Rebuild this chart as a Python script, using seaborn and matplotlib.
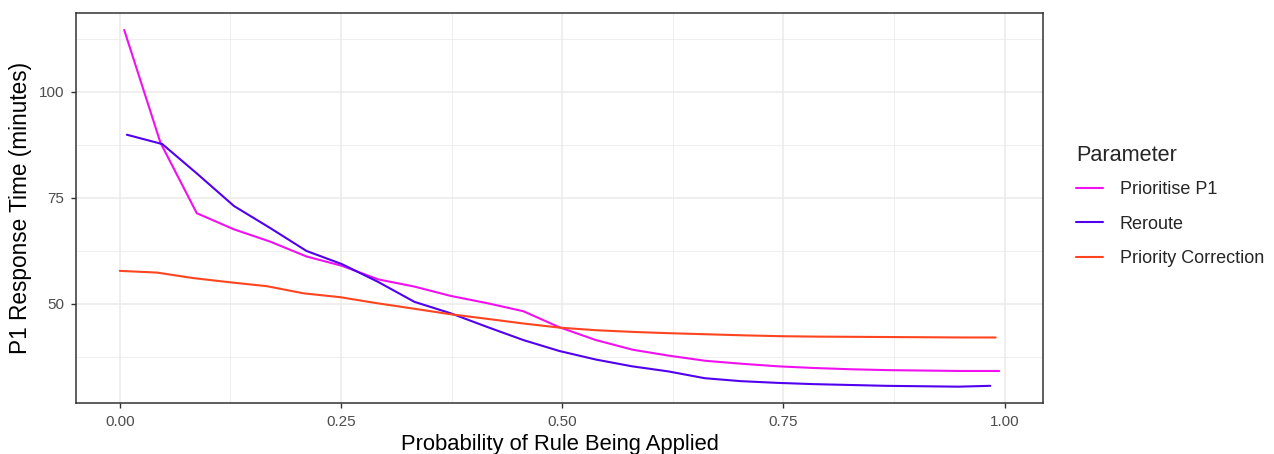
import numpy as np
import pandas as pd
import matplotlib
matplotlib.use("Agg")
import matplotlib.pyplot as plt
import seaborn as sns
from matplotlib.ticker import MultipleLocator

# Probability of the rule being applied, per parameter run
prob_prioritise = [0.005, 0.046, 0.087, 0.129, 0.170, 0.211, 0.251, 0.292, 0.333,
                   0.374, 0.415, 0.456, 0.497, 0.538, 0.580, 0.621, 0.662, 0.703,
                   0.744, 0.785, 0.827, 0.868, 0.909, 0.950, 0.994]
prob_reroute = [0.008, 0.048, 0.088, 0.129, 0.170, 0.211, 0.251, 0.292, 0.333,
                0.374, 0.415, 0.456, 0.497, 0.538, 0.579, 0.620, 0.661, 0.702,
                0.743, 0.784, 0.825, 0.866, 0.907, 0.948, 0.984]
prob_correction = [0.000, 0.042, 0.083, 0.125, 0.166, 0.208, 0.249, 0.290, 0.332,
                   0.373, 0.415, 0.456, 0.498, 0.539, 0.581, 0.622, 0.664, 0.705,
                   0.747, 0.788, 0.830, 0.871, 0.913, 0.954, 0.990]

# Mean P1 response time (minutes)
time_prioritise = [114.6, 88.0, 71.4, 67.6, 64.7, 61.2, 59.0, 55.8, 54.1,
                   51.9, 50.2, 48.3, 44.5, 41.5, 39.2, 37.8, 36.6, 35.9,
                   35.3, 34.9, 34.6, 34.4, 34.3, 34.2, 34.2]
time_reroute = [89.9, 87.7, 80.6, 73.1, 67.9, 62.5, 59.4, 55.2, 50.5,
                47.8, 44.6, 41.5, 38.9, 36.9, 35.3, 34.1, 32.5, 31.8,
                31.4, 31.1, 30.9, 30.7, 30.6, 30.5, 30.7]
time_correction = [57.8, 57.4, 56.1, 55.1, 54.2, 52.5, 51.6, 50.2, 48.9,
                   47.6, 46.5, 45.4, 44.4, 43.8, 43.4, 43.1, 42.85, 42.6,
                   42.4, 42.3, 42.25, 42.2, 42.15, 42.1, 42.1]

parameters = ["Prioritise P1", "Reroute", "Priority Correction"]
palette = {"Prioritise P1": "#F010F0", "Reroute": "#5200F0",
           "Priority Correction": "#FF4520"}

df = pd.concat([
    pd.DataFrame({"prob": prob_prioritise, "time": time_prioritise,
                  "Parameter": parameters[0]}),
    pd.DataFrame({"prob": prob_reroute, "time": time_reroute,
                  "Parameter": parameters[1]}),
    pd.DataFrame({"prob": prob_correction, "time": time_correction,
                  "Parameter": parameters[2]}),
], ignore_index=True)

sns.set_theme(style="white")
plt.rcParams["font.family"] = ["Liberation Sans", "DejaVu Sans"]

fig = plt.figure(figsize=(12.74, 4.54), dpi=100)
ax = fig.add_axes([76 / 1274, 1 - 403 / 454, (1043 - 76) / 1274, (403 - 13) / 454])

sns.lineplot(data=df, x="prob", y="time", hue="Parameter", hue_order=parameters,
             palette=palette, linewidth=1.5, sort=False, estimator=None,
             ax=ax, legend=True)

ax.set_xlim(-0.0495, 1.0435)
ax.set_ylim(26.65, 118.6)
ax.set_xticks([0, 0.25, 0.5, 0.75, 1.0])
ax.set_xticklabels(["0.00", "0.25", "0.50", "0.75", "1.00"])
ax.set_yticks([50, 75, 100])
ax.xaxis.set_minor_locator(MultipleLocator(0.125))
ax.yaxis.set_minor_locator(MultipleLocator(12.5))

ax.grid(True, which="major", color="#EBEBEB", linewidth=1.1)
ax.grid(True, which="minor", color="#EBEBEB", linewidth=0.55)
ax.set_axisbelow(True)
for s in ax.spines.values():
    s.set_color("#333333")
    s.set_linewidth(1.1)

ax.tick_params(axis="both", which="major", length=3.5, width=1.0, color="#333333",
               labelcolor="#4D4D4D", labelsize=11, bottom=True, left=True)
ax.tick_params(axis="x", which="major", pad=5)
ax.tick_params(axis="y", which="major", pad=5)
ax.tick_params(axis="both", which="minor", length=0)

ax.set_xlabel("Probability of Rule Being Applied", fontsize=15.8, color="black",
              labelpad=4)
ax.set_ylabel("P1 Response Time (minutes)", fontsize=16.3, color="black",
              labelpad=5)

handles, labels = ax.get_legend_handles_labels()
leg = ax.legend(handles, labels, title="Parameter", loc="center left",
                bbox_to_anchor=(1.019, 0.505), frameon=False, fontsize=13,
                title_fontsize=15.6, handlelength=1.5, labelspacing=0.98,
                handletextpad=0.94, borderpad=0.3)
leg._legend_box.align = "left"
leg._legend_box.sep = 11

fig.savefig("out.png", dpi=100)
